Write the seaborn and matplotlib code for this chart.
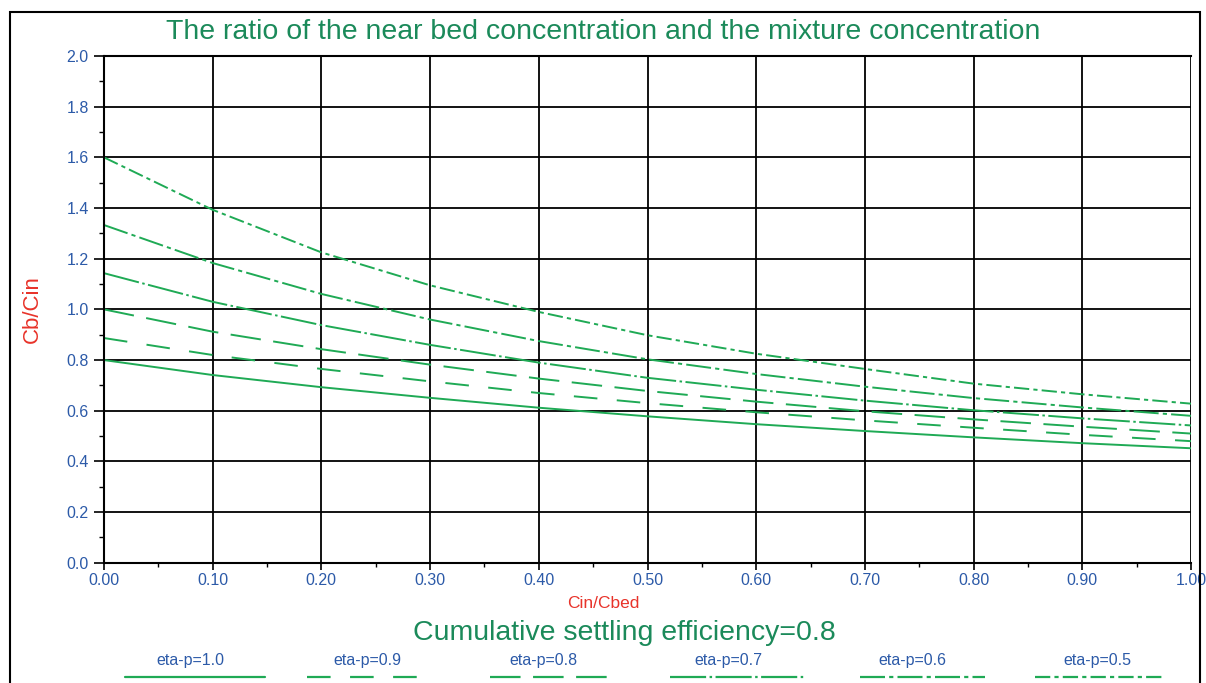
import numpy as np
import pandas as pd
import seaborn as sns
import matplotlib.pyplot as plt
import matplotlib.ticker as ticker
from matplotlib.lines import Line2D
from matplotlib.patches import Rectangle

sns.set_style("white")
plt.rcParams['font.family'] = ['Liberation Sans', 'DejaVu Sans']
plt.rcParams['lines.scale_dashes'] = False

# values
cin_cbed = [0.0, 0.1, 0.2, 0.3, 0.4, 0.5, 0.6, 0.7, 0.8, 0.9, 1.0]
eta_10 = [0.800, 0.741, 0.693, 0.651, 0.612, 0.578, 0.547, 0.520, 0.495, 0.472, 0.452]
eta_09 = [0.887, 0.820, 0.765, 0.716, 0.670, 0.630, 0.594, 0.562, 0.533, 0.505, 0.480]
eta_08 = [1.000, 0.912, 0.843, 0.782, 0.727, 0.678, 0.636, 0.598, 0.566, 0.537, 0.510]
eta_07 = [1.143, 1.030, 0.938, 0.860, 0.790, 0.730, 0.683, 0.640, 0.602, 0.570, 0.542]
eta_06 = [1.333, 1.183, 1.061, 0.960, 0.875, 0.803, 0.745, 0.695, 0.650, 0.613, 0.580]
eta_05 = [1.600, 1.393, 1.225, 1.095, 0.990, 0.898, 0.825, 0.765, 0.707, 0.665, 0.628]

labels = ['eta-p=1.0', 'eta-p=0.9', 'eta-p=0.8', 'eta-p=0.7', 'eta-p=0.6', 'eta-p=0.5']
series = [eta_10, eta_09, eta_08, eta_07, eta_06, eta_05]

data = pd.DataFrame({'Cin/Cbed': cin_cbed})
for lab, vals in zip(labels, series):
    data[lab] = vals
data = data.melt('Cin/Cbed', var_name='eta', value_name='Cb/Cin')

green = '#1faa55'
blue = '#2c5aa8'
red = '#e8332a'
dgreen = '#1b8a5a'

dashes = {
    'eta-p=1.0': '',
    'eta-p=0.9': (17, 14),
    'eta-p=0.8': (22, 9),
    'eta-p=0.7': (26, 2.5, 1.8, 2.5),
    'eta-p=0.6': (18, 3, 3, 3),
    'eta-p=0.5': (11, 3, 3, 3),
}

fig = plt.figure(figsize=(12.06, 6.83), dpi=100)
ax = fig.add_axes([0.0862, 0.176, 0.9014, 0.742])

sns.lineplot(data=data, x='Cin/Cbed', y='Cb/Cin', hue='eta', style='eta',
             palette=[green] * 6, dashes=dashes, linewidth=1.4, legend=False, ax=ax)

ax.set_xlim(0, 1.0)
ax.set_ylim(0, 2.0)
ax.xaxis.set_major_locator(ticker.MultipleLocator(0.1))
ax.xaxis.set_minor_locator(ticker.MultipleLocator(0.05))
ax.yaxis.set_major_locator(ticker.MultipleLocator(0.2))
ax.yaxis.set_minor_locator(ticker.MultipleLocator(0.1))
ax.xaxis.set_major_formatter(ticker.FormatStrFormatter('%.2f'))
ax.yaxis.set_major_formatter(ticker.FormatStrFormatter('%.1f'))
ax.grid(True, which='major', color='black', linewidth=1.3)
ax.set_axisbelow(True)
for s in ['left', 'bottom', 'top']:
    ax.spines[s].set_color('black')
    ax.spines[s].set_linewidth(1.5)
ax.spines['right'].set_visible(False)
ax.tick_params(axis='both', which='both', left=True, bottom=True, direction='out', colors='black')
ax.tick_params(axis='both', which='major', length=7.5, width=1.2, labelcolor=blue, labelsize=11.5)
ax.tick_params(axis='both', which='minor', length=3.5, width=1.0)
ax.tick_params(axis='x', which='major', length=5, pad=2)
ax.tick_params(axis='x', which='minor', length=3)

ax.set_xlabel('')
ax.set_ylabel('Cb/Cin', color=red, fontsize=16, labelpad=17)
fig.text(0.5, 1 - 603 / 683, 'Cin/Cbed', ha='center', va='center', color=red, fontsize=12.5)

fig.text(0.5, 0.953, 'The ratio of the near bed concentration and the mixture concentration',
         ha='center', va='center', color=dgreen, fontsize=20.5)
fig.text(0.518, 1 - 633 / 683, 'Cumulative settling efficiency=0.8',
         ha='center', va='center', color=dgreen, fontsize=20.5)

# legend: label above its line sample
label_x = [190, 367, 543, 728, 912, 1097]
sample_x = [(125, 265), (307, 422), (490, 610), (670, 805), (860, 985), (1035, 1165)]
for lab, lx, (x0, x1) in zip(labels, label_x, sample_x):
    fig.text(lx / 1206, 1 - 660 / 683, lab, ha='center', va='center', color=blue, fontsize=11.5)
    ln = Line2D([x0 / 1206, x1 / 1206], [1 - 677 / 683] * 2, transform=fig.transFigure,
                color=green, linewidth=1.6)
    if dashes[lab]:
        ln.set_dashes(dashes[lab])
    fig.add_artist(ln)

fig.add_artist(Rectangle((0.008, -0.02), 0.987, 1.002, transform=fig.transFigure,
                         fill=False, edgecolor='black', linewidth=1.5))

fig.savefig('out.png', dpi=100)
